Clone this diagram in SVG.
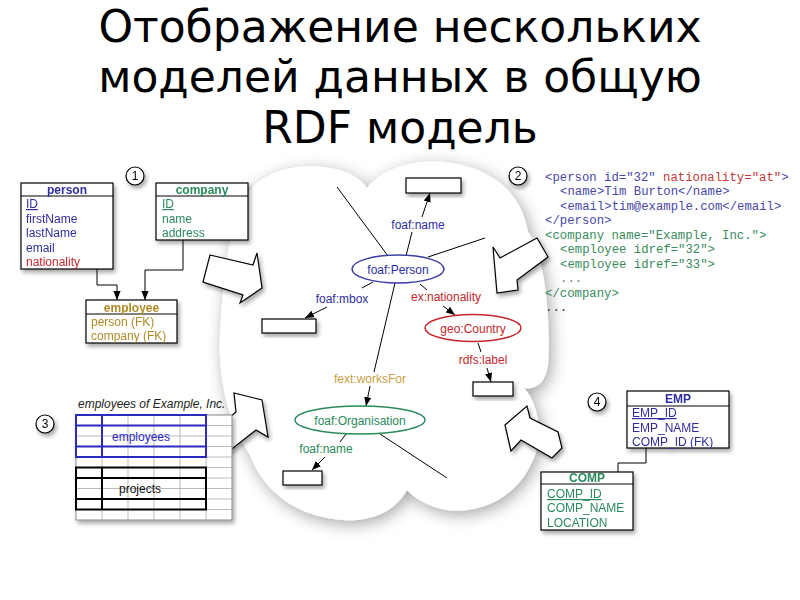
<svg xmlns="http://www.w3.org/2000/svg" width="800" height="600" viewBox="0 0 800 600">
<defs>
<style>
.t{font-family:"DejaVu Sans","Liberation Sans",sans-serif;font-size:44px;fill:#000;text-anchor:middle}
.s{font-family:"Liberation Sans",Arial,sans-serif;font-size:12px}
.b{font-weight:bold;text-anchor:middle}
.m{font-family:"Liberation Mono","Courier New",monospace;font-size:12.3px}
.tbl{fill:#fff;stroke:#000;stroke-width:1.2}
.ln{fill:none;stroke:#000;stroke-width:1}
.blue{fill:#2e2ea0}.green{fill:#2a8a5c}.gold{fill:#b08a28}.red{fill:#c4262e}
.wt{fill:#c8a048}
.box{fill:#fff;stroke:#000;stroke-width:1.2}
.arr{fill:#fff;stroke:#000;stroke-width:1.2;stroke-linejoin:miter}
.grid{stroke:#aaa;stroke-width:0.8;fill:none}
.c{text-anchor:middle}
</style>
<filter id="sh" x="-20%" y="-20%" width="150%" height="150%"><feDropShadow dx="2" dy="3" stdDeviation="2" flood-color="#000" flood-opacity="0.35"/></filter>
<filter id="csh" x="-20%" y="-20%" width="140%" height="140%"><feDropShadow dx="3" dy="4" stdDeviation="8" flood-color="#000" flood-opacity="0.35"/></filter>
<marker id="ah" viewBox="0 0 10 10" refX="10" refY="5" markerWidth="9" markerHeight="9" orient="auto" markerUnits="userSpaceOnUse"><path d="M0,1 L10,5 L0,9 z" fill="#000"/></marker>
</defs>
<rect width="800" height="600" fill="#fff"/>

<g id="title">
<text class="t" x="400" y="42">Отображение нескольких</text>
<text class="t" x="400" y="92">моделей данных в общую</text>
<text class="t" x="400" y="143">RDF модель</text>
</g>

<g id="cloud">
<path filter="url(#csh)" fill="#fff" d="M 243,200 C 258,172 295,162 330,168 C 348,171 360,178 367,188 C 385,166 420,158 452,163 C 495,170 522,195 528,232 C 545,255 551,320 548,365 C 546,382 536,390 524,388 C 540,405 543,440 533,460 C 516,500 478,514 447,510 C 430,507 415,499 407,490 C 395,512 370,522 343,520 C 300,517 265,495 250,455 C 226,420 216,370 221,320 C 224,270 230,225 243,200 Z"/>
</g>

<g id="block-arrows">
<polygon class="arr" filter="url(#sh)" points="210,255 253,265 257,253 262,288 240,303 243,295 203,282"/>
<polygon class="arr" filter="url(#sh)" points="493,247 500,258 537,238 548,257 517,280 518,290 497,293"/>
<polygon class="arr" filter="url(#sh)" points="213,432 236,412 234,393 262,400 268,437 256,430 228,452"/>
<polygon class="arr" filter="url(#sh)" points="505,425 527,406 530,418 558,432 562,448 552,458 521,440 511,451"/>
</g>

<g id="connectors">
<path class="ln" d="M97,269 V285 H117 V300" marker-end="url(#ah)"/>
<path class="ln" d="M183,240 V270 H145 V300" marker-end="url(#ah)"/>
<path class="ln" d="M646,448 V463 H618 V472"/>
<line class="ln" x1="337" y1="187" x2="388" y2="256"/>
<line class="ln" x1="406" y1="256" x2="412" y2="232"/>
<line class="ln" x1="422" y1="217" x2="430" y2="193" marker-end="url(#ah)"/>
<line class="ln" x1="428" y1="257" x2="485" y2="238"/>
<line class="ln" x1="373" y1="282" x2="362" y2="288"/>
<line class="ln" x1="327" y1="307" x2="305" y2="318" marker-end="url(#ah)"/>
<line class="ln" x1="420" y1="284" x2="427" y2="290"/>
<line class="ln" x1="443" y1="306" x2="455" y2="315" marker-end="url(#ah)"/>
<line class="ln" x1="395" y1="283" x2="374" y2="372"/>
<line class="ln" x1="370" y1="386" x2="366" y2="406" marker-end="url(#ah)"/>
<line class="ln" x1="346" y1="434" x2="340" y2="442"/>
<line class="ln" x1="325" y1="457" x2="312" y2="470" marker-end="url(#ah)"/>
<line class="ln" x1="380" y1="434" x2="447" y2="478"/>
<line class="ln" x1="478" y1="343" x2="481" y2="352"/>
<line class="ln" x1="487" y1="368" x2="491" y2="382" marker-end="url(#ah)"/>
</g>

<g id="table-person" filter="url(#sh)">
<rect class="tbl" x="21" y="183" width="92" height="86"/>
<line class="ln" x1="21" y1="196" x2="113" y2="196"/>
<text class="s b blue" x="67" y="194">person</text>
<text class="s blue" x="26" y="208" text-decoration="underline">ID</text>
<text class="s blue" x="26" y="222.5">firstName</text>
<text class="s blue" x="26" y="237">lastName</text>
<text class="s blue" x="26" y="251.5">email</text>
<text class="s red" x="26" y="266">nationality</text>
</g>
<g id="table-company" filter="url(#sh)">
<rect class="tbl" x="156" y="183" width="92" height="57"/>
<line class="ln" x1="156" y1="196" x2="248" y2="196"/>
<text class="s b green" x="202" y="194">company</text>
<text class="s green" x="162" y="208" text-decoration="underline">ID</text>
<text class="s green" x="162" y="222.5">name</text>
<text class="s green" x="162" y="237">address</text>
</g>
<g id="table-employee" filter="url(#sh)">
<rect class="tbl" x="86" y="300" width="91" height="43"/>
<line class="ln" x1="86" y1="314" x2="177" y2="314"/>
<text class="s b gold" x="131.5" y="311.5">employee</text>
<text class="s gold" x="91" y="326">person (FK)</text>
<text class="s gold" x="91" y="340">company (FK)</text>
</g>

<g id="num1" filter="url(#sh)"><circle cx="135" cy="176" r="9" class="box"/><text class="s c" x="135" y="180" font-size="10">1</text></g>
<g id="num2" filter="url(#sh)"><circle cx="518" cy="176" r="9" class="box"/><text class="s c" x="518" y="180" font-size="10">2</text></g>
<g id="num3" filter="url(#sh)"><circle cx="45" cy="424" r="9" class="box"/><text class="s c" x="45" y="428" font-size="10">3</text></g>
<g id="num4" filter="url(#sh)"><circle cx="597" cy="402" r="9" class="box"/><text class="s c" x="597" y="406" font-size="10">4</text></g>

<g id="xml" class="m">
<text x="545" y="180.5"><tspan fill="#4848a8">&lt;person id="32" </tspan><tspan fill="#c03838">nationality="at"</tspan><tspan fill="#4848a8">&gt;</tspan></text>
<text x="560" y="195" fill="#4848a8">&lt;name&gt;Tim Burton&lt;/name&gt;</text>
<text x="560" y="209.5" fill="#4848a8">&lt;email&gt;tim@example.com&lt;/email&gt;</text>
<text x="545" y="224" fill="#4848a8">&lt;/person&gt;</text>
<text x="545" y="238.5" fill="#3a8a60">&lt;company name="Example, Inc."&gt;</text>
<text x="560" y="253" fill="#3a8a60">&lt;employee idref="32"&gt;</text>
<text x="560" y="267.5" fill="#3a8a60">&lt;employee idref="33"&gt;</text>
<text x="560" y="282" fill="#6a8a78">...</text>
<text x="545" y="296.5" fill="#3a8a60">&lt;/company&gt;</text>
<text x="545" y="311" fill="#333">...</text>
</g>

<g id="node-foaf-person">
<ellipse cx="398" cy="269" rx="46" ry="14" fill="#fff" stroke="#3a3aa8" stroke-width="1.5"/>
<text class="s c blue" x="398" y="273.5">foaf:Person</text>
</g>
<g id="node-geo-country">
<ellipse cx="473" cy="328" rx="48" ry="13.5" fill="#fff" stroke="#c4262e" stroke-width="1.5"/>
<text class="s c red" x="473" y="332.5">geo:Country</text>
</g>
<g id="node-foaf-organisation">
<ellipse cx="360" cy="420" rx="65" ry="14" fill="#fff" stroke="#2a8a5c" stroke-width="1.5"/>
<text class="s c green" x="360" y="424.5">foaf:Organisation</text>
</g>
<g id="literal-name" filter="url(#sh)"><rect class="box" x="406" y="178" width="55" height="15"/></g>
<g id="literal-mbox" filter="url(#sh)"><rect class="box" x="262" y="319" width="54" height="14"/></g>
<g id="literal-label" filter="url(#sh)"><rect class="box" x="473" y="382" width="40" height="14"/></g>
<g id="literal-orgname" filter="url(#sh)"><rect class="box" x="283" y="471" width="39" height="14"/></g>

<g id="edge-labels">
<text class="s c blue" x="418" y="229">foaf:name</text>
<text class="s c blue" x="342" y="303">foaf:mbox</text>
<text class="s c red" x="446" y="301">ex:nationality</text>
<text class="s c wt" x="370" y="383">fext:worksFor</text>
<text class="s c green" x="326" y="453">foaf:name</text>
<text class="s c red" x="483" y="364">rdfs:label</text>
</g>

<g id="spreadsheet">
<text class="s" x="78" y="408" font-style="italic" fill="#222">employees of Example, Inc.</text>
<rect x="76" y="415" width="156" height="105" fill="#fff" stroke="#888" stroke-width="1" filter="url(#sh)"/>
<path class="grid" d="M102,415V520M128,415V520M154,415V520M180,415V520M206,415V520M76,425.5H232M76,436H232M76,446.5H232M76,457H232M76,467.5H232M76,478H232M76,488.5H232M76,499H232M76,509.5H232"/>
<rect x="76" y="415" width="130" height="42" fill="none" stroke="#2a2ac0" stroke-width="2"/>
<path d="M102,415V457M76,425.5H206M76,446.5H206" stroke="#2a2ac0" stroke-width="2" fill="none"/>
<text class="s c" x="141" y="441" fill="#2a2ac0">employees</text>
<rect x="76" y="467.5" width="130" height="42" fill="none" stroke="#000" stroke-width="2"/>
<path d="M102,467.5V509.5M76,478H206M76,499H206" stroke="#000" stroke-width="2" fill="none"/>
<text class="s c" x="140" y="493" fill="#111">projects</text>
</g>

<g id="table-emp" filter="url(#sh)">
<rect class="tbl" x="627" y="391" width="102" height="57"/>
<line class="ln" x1="627" y1="406" x2="729" y2="406"/>
<text class="s b blue" x="678" y="403">EMP</text>
<text class="s blue" x="632" y="417" text-decoration="underline">EMP_ID</text>
<text class="s blue" x="632" y="431.5">EMP_NAME</text>
<text class="s blue" x="632" y="446">COMP_ID (FK)</text>
</g>
<g id="table-comp" filter="url(#sh)">
<rect class="tbl" x="541" y="472" width="92" height="58"/>
<line class="ln" x1="541" y1="484" x2="633" y2="484"/>
<text class="s b green" x="587" y="481.5">COMP</text>
<text class="s green" x="547" y="498" text-decoration="underline">COMP_ID</text>
<text class="s green" x="547" y="512">COMP_NAME</text>
<text class="s green" x="547" y="527">LOCATION</text>
</g>
</svg>
